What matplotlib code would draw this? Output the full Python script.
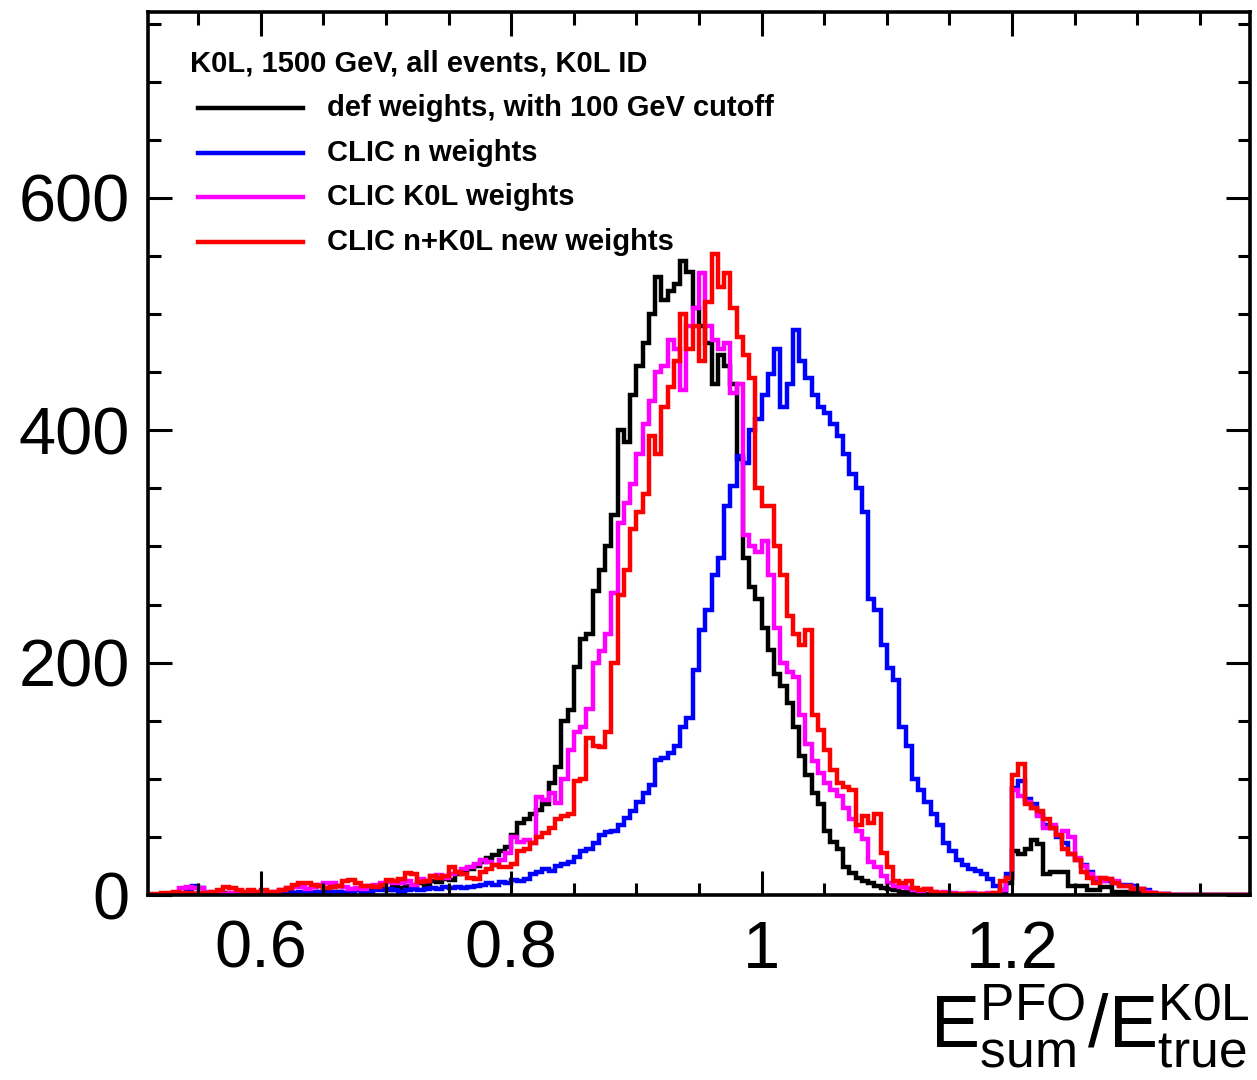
import numpy as np
import matplotlib
matplotlib.use("Agg")
import matplotlib.pyplot as plt
from matplotlib.lines import Line2D
from matplotlib.ticker import MultipleLocator, FuncFormatter

plt.rcParams['font.family'] = ['Liberation Sans', 'DejaVu Sans']
plt.rcParams['mathtext.fontset'] = 'custom'
plt.rcParams['mathtext.rm'] = 'Liberation Sans'
plt.rcParams['mathtext.it'] = 'Liberation Sans'

# binning: 0.005 wide bins from 0.51 to 1.39 (176 bins)
x_lo, x_hi, bin_w = 0.51, 1.39, 0.005
edges = np.round(np.arange(x_lo, x_hi + bin_w / 2, bin_w), 4)

# def weights, with 100 GeV cutoff
h_def = [
    0, 0, 0, 0, 0, 1, 0, 1, 0, 2,
    1, 0, 2, 1, 0, 1, 2, 1, 0, 1,
    2, 1, 3, 2, 1, 2, 3, 2, 4, 3,
    3, 2, 4, 5, 3, 4, 6, 5, 4, 7,
    6, 8, 7, 10, 9, 12, 11, 14, 13, 18,
    20, 22, 25, 28, 32, 34, 38, 41, 52, 62,
    65, 70, 73, 78, 96, 110, 150, 159, 196, 220,
    225, 262, 280, 300, 327, 400, 390, 430, 455, 475,
    500, 532, 512, 520, 526, 546, 536, 505, 490, 475,
    440, 465, 455, 440, 375, 290, 265, 255, 230, 211,
    190, 180, 165, 145, 120, 103, 88, 78, 55, 46,
    40, 24, 19, 15, 12, 10, 8, 6, 5, 4,
    3, 3, 2, 2, 1, 2, 1, 1, 0, 1,
    1, 0, 1, 0, 1, 0, 3, 10, 38, 35,
    40, 47, 44, 18, 20, 20, 20, 8, 8, 8,
    4, 4, 7, 7, 3, 3, 3, 3, 3, 0,
    0, 0, 0, 0, 0, 0, 0, 0, 0, 0,
    0, 0, 0, 0, 0, 0,
]

# CLIC n weights
h_n = [
    0, 0, 0, 0, 0, 2, 4, 8, 6, 2,
    2, 1, 0, 1, 0, 1, 1, 2, 1, 0,
    1, 2, 1, 2, 3, 2, 2, 3, 2, 3,
    3, 2, 3, 4, 3, 3, 4, 4, 5, 4,
    3, 4, 5, 4, 5, 6, 5, 7, 6, 7,
    6, 7, 8, 9, 10, 9, 11, 10, 13, 12,
    14, 18, 20, 22, 21, 25, 27, 28, 33, 38,
    40, 45, 52, 54, 55, 60, 66, 72, 80, 88,
    95, 116, 118, 122, 128, 145, 152, 194, 228, 245,
    275, 290, 335, 352, 378, 372, 400, 410, 430, 448,
    470, 420, 440, 486, 460, 445, 430, 420, 415, 405,
    395, 380, 362, 350, 330, 255, 245, 215, 195, 185,
    145, 128, 100, 90, 80, 70, 60, 45, 38, 30,
    26, 22, 21, 18, 14, 8, 4, 18, 92, 98,
    83, 78, 70, 60, 58, 50, 45, 35, 30, 26,
    20, 14, 12, 12, 10, 9, 9, 8, 5, 4,
    2, 1, 1, 0, 0, 0, 0, 0, 0, 0,
    0, 0, 0, 0, 0, 0,
]

# CLIC K0L weights
h_k0l = [
    0, 0, 0, 1, 1, 6, 7, 6, 6, 3,
    2, 1, 1, 2, 3, 2, 1, 3, 2, 2,
    3, 4, 6, 7, 7, 5, 7, 9, 10, 10,
    8, 7, 5, 6, 5, 8, 9, 10, 11, 10,
    10, 12, 9, 14, 12, 16, 17, 15, 18, 20,
    22, 24, 27, 30, 28, 26, 30, 36, 50, 46,
    47, 45, 84, 82, 88, 79, 100, 125, 140, 145,
    160, 200, 210, 225, 260, 320, 337, 354, 380, 405,
    425, 450, 455, 478, 470, 435, 490, 505, 535, 490,
    478, 470, 475, 432, 440, 310, 300, 295, 305, 275,
    230, 200, 192, 188, 155, 130, 115, 105, 96, 90,
    85, 75, 65, 55, 48, 28, 24, 16, 10, 8,
    7, 6, 4, 3, 5, 3, 2, 3, 2, 1,
    1, 2, 1, 1, 2, 1, 4, 15, 90, 85,
    80, 75, 68, 58, 60, 52, 55, 50, 32, 25,
    18, 15, 12, 14, 12, 8, 8, 6, 5, 3,
    2, 1, 1, 0, 0, 0, 0, 0, 0, 0,
    0, 0, 0, 0, 0, 0,
]

# CLIC n+K0L new weights
h_new = [
    1, 1, 2, 2, 3, 2, 2, 1, 2, 2,
    3, 4, 7, 6, 4, 3, 4, 3, 4, 3,
    3, 4, 6, 9, 10, 10, 9, 8, 6, 7,
    8, 12, 13, 10, 8, 8, 7, 9, 13, 12,
    14, 19, 18, 11, 12, 16, 15, 16, 24, 20,
    18, 15, 14, 20, 22, 26, 24, 24, 27, 38,
    40, 45, 50, 53, 58, 65, 68, 70, 98, 100,
    135, 128, 127, 140, 200, 258, 280, 315, 330, 345,
    395, 380, 420, 437, 460, 500, 470, 490, 460, 510,
    552, 523, 535, 505, 480, 465, 445, 350, 335, 335,
    300, 275, 240, 225, 215, 228, 155, 142, 125, 108,
    96, 93, 90, 60, 68, 62, 70, 36, 24, 12,
    10, 12, 6, 4, 5, 3, 2, 2, 1, 1,
    1, 1, 0, 1, 1, 2, 12, 15, 103, 113,
    78, 75, 72, 65, 58, 52, 40, 35, 30, 20,
    15, 10, 15, 14, 10, 8, 8, 5, 5, 2,
    2, 1, 1, 0, 0, 0, 0, 0, 0, 0,
    0, 0, 0, 0, 0, 0,
]

series = [
    (h_def, 'black', 'def weights, with 100 GeV cutoff'),
    (h_n, '#0000ff', 'CLIC n weights'),
    (h_k0l, '#ff00ff', 'CLIC K0L weights'),
    (h_new, '#ff0000', 'CLIC n+K0L new weights'),
]
header = 'K0L, 1500 GeV, all events, K0L ID'

W, H = 1257, 1080
fig = plt.figure(figsize=(W / 100, H / 100), dpi=100)
ax = fig.add_axes([148 / W, (H - 895) / H, (1250 - 148) / W, (895 - 12) / H])

for vals, col, lab in series:
    ax.stairs(vals, edges, color=col, lw=3.2, baseline=None)

ax.set_xlim(x_lo, x_hi)
ax.set_ylim(0, 760)

ax.xaxis.set_major_locator(MultipleLocator(0.2))
ax.xaxis.set_minor_locator(MultipleLocator(0.05))
ax.yaxis.set_major_locator(MultipleLocator(200))
ax.yaxis.set_minor_locator(MultipleLocator(50))
ax.xaxis.set_major_formatter(FuncFormatter(lambda v, p: '%g' % round(v, 3)))
ax.tick_params(which='both', direction='in', top=True, right=True, width=2.2)
ax.tick_params(which='major', length=17, labelsize=48)
ax.tick_params(which='minor', length=9)
ax.tick_params(axis='x', which='major', pad=18)
ax.tick_params(axis='y', which='major', pad=13)
for s in ax.spines.values():
    s.set_linewidth(2.6)

fig.text(1250 / W, (H - 1048) / H,
         r'$\mathregular{E^{PFO}_{sum}/E^{K0L}_{true}}$',
         fontsize=53, ha='right', va='baseline')

# legend drawn as in ROOT: header then line samples with labels
fig.text(190 / W, (H - 64) / H, header, fontsize=21, fontweight='bold',
         ha='left', va='center')
rows_y = [108, 153, 197, 242]
for (vals, col, lab), yp in zip(series, rows_y):
    yf = (H - yp) / H
    fig.add_artist(Line2D([198 / W, 303 / W], [yf, yf], color=col, lw=3.2,
                          transform=fig.transFigure))
    fig.text(327 / W, yf, lab, fontsize=21, fontweight='bold',
             ha='left', va='center')

fig.savefig('out.png', dpi=100)
